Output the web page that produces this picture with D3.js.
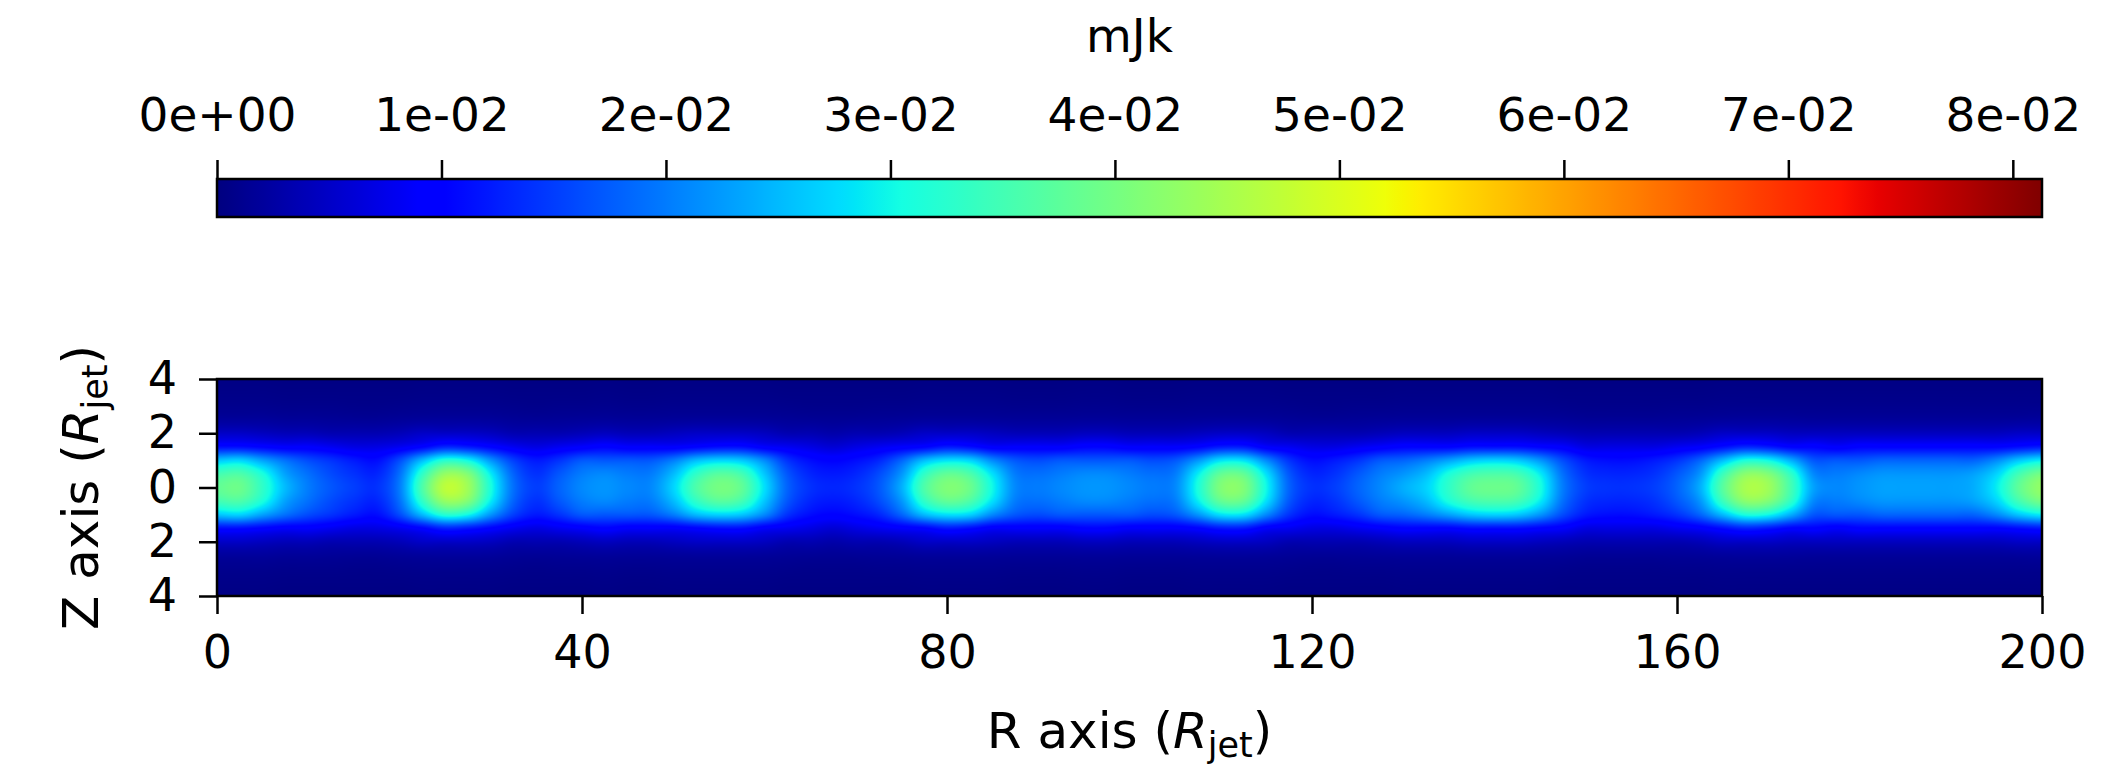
<!DOCTYPE html>
<html><head><meta charset="utf-8">
<script src="https://cdn.jsdelivr.net/npm/d3@7"></script>
<style>
body{margin:0;background:#fff}
svg{display:block}
text{font-family:"DejaVu Sans",sans-serif;fill:#000}
</style>
</head><body>
<svg id="chart" width="2111" height="770"></svg>
<script>
// ---------------- data ----------------
const title = "mJk";
const xTicks = [0, 40, 80, 120, 160, 200];
const zTicks = [4, 2, 0, -2, -4];
const zTickLabels = ["4", "2", "0", "2", "4"];
const cbTicks = [0, 0.01, 0.02, 0.03, 0.04, 0.05, 0.06, 0.07, 0.08];
const cbTickLabels = ["0e+00","1e-02","2e-02","3e-02","4e-02","5e-02","6e-02","7e-02","8e-02"];
const cbMin = 0, cbMax = 0.0813;
const rMin = 0, rMax = 200;                       // R sample columns every 2.5
const zRows = [0, 0.5, 1, 1.5, 2, 2.5, 3, 3.5, 4]; // |Z| sample rows (field symmetric in Z)
const valueUnit = 1e-3;
// mJk values (x1e-3) read along R = 0, 2.5, ... 200 at each |Z|
const mjk_z00 = [38,39,33,25,20,17,15,14,20,36,47,44,31,19,15,18,21,22,21,21,27,36,40,38,28,18,14,13,14,17,24,36,41,39,30,21,20,21,22,22,21,20,21,31,41,41,30,18,14,15,18,21,24,27,33,38,39,38,31,20,15,14,14,15,18,24,37,45,44,35,23,21,22,23,23,23,23,24,29,38,43];
const mjk_z05 = [35,36,31,23,19,16,14,13,19,33,43,41,29,18,14,17,20,21,20,20,25,33,37,35,26,17,13,12,13,16,22,33,38,36,28,20,19,20,21,21,20,19,20,29,38,38,28,17,13,14,17,20,22,25,31,35,36,35,29,19,14,13,13,14,17,22,34,42,41,33,21,20,21,22,22,22,22,23,27,35,40];
const mjk_z10 = [26,27,23,19,16,14,12,11,16,25,32,30,22,15,12,14,17,17,17,17,20,25,27,26,21,14,11,10,11,13,18,25,28,27,21,17,16,17,17,17,17,16,17,22,28,28,21,14,11,12,14,17,18,20,23,26,27,26,22,16,12,11,11,12,14,18,25,31,30,24,17,17,17,18,18,18,18,18,21,26,29];
const mjk_z15 = [11,11,10,9,9,8,7,7,8,10,13,12,10,8,7,8,9,10,9,9,9,10,11,11,9,8,7,6,7,8,9,10,12,11,9,9,9,9,10,10,9,9,9,10,12,12,9,8,7,7,8,9,10,10,10,11,11,11,10,9,7,7,7,7,8,9,11,13,12,10,10,9,10,10,10,10,10,10,10,11,12];
const mjk_z20 = [5,5,4.5,4,4,3.5,3.5,3.5,4,5,5,5,4.5,3.5,3.5,3.5,4,4.5,4,4,4.5,5,5,5,4.5,3.5,3.5,3,3.5,3.5,4,5,5,5,4.5,4,4,4,4.5,4.5,4,4,4,4.5,5,5,4.5,3.5,3.5,3.5,3.5,4,4.5,4.5,4.5,5,5,5,4.5,4,3.5,3.5,3.5,3.5,3.5,4,5,5,5,4.5,4.5,4.5,4.5,4.5,4.5,4.5,4.5,4.5,4.5,5,5];
const mjk_z25 = [2,2,2,1.8,1.8,1.7,1.6,1.6,1.8,2,2.1,2.1,2,1.7,1.6,1.7,1.8,1.9,1.8,1.8,1.9,2,2,2,1.9,1.7,1.6,1.5,1.6,1.7,1.8,2,2,2,1.9,1.8,1.8,1.8,1.9,1.9,1.8,1.8,1.8,1.9,2,2,1.9,1.7,1.6,1.6,1.7,1.8,1.9,1.9,1.9,2,2,2,1.9,1.8,1.6,1.6,1.6,1.6,1.7,1.8,2,2.1,2.1,2,1.9,1.9,1.9,1.9,1.9,1.9,1.9,1.9,1.9,2,2.1];
const mjk_z30 = [1,1,1,0.9,0.9,0.9,0.8,0.8,0.9,1,1,1,1,0.9,0.8,0.9,0.9,1,0.9,0.9,1,1,1,1,1,0.9,0.8,0.8,0.8,0.9,0.9,1,1,1,1,0.9,0.9,0.9,1,1,0.9,0.9,0.9,1,1,1,1,0.9,0.8,0.8,0.9,0.9,1,1,1,1,1,1,1,0.9,0.8,0.8,0.8,0.8,0.9,0.9,1,1,1,1,1,1,1,1,1,1,1,1,1,1,1];
const mjk_z35 = [0.6,0.6,0.6,0.5,0.5,0.5,0.5,0.5,0.5,0.6,0.6,0.6,0.6,0.5,0.5,0.5,0.5,0.6,0.5,0.5,0.6,0.6,0.6,0.6,0.6,0.5,0.5,0.5,0.5,0.5,0.5,0.6,0.6,0.6,0.6,0.5,0.5,0.5,0.6,0.6,0.5,0.5,0.5,0.6,0.6,0.6,0.6,0.5,0.5,0.5,0.5,0.5,0.6,0.6,0.6,0.6,0.6,0.6,0.6,0.5,0.5,0.5,0.5,0.5,0.5,0.5,0.6,0.6,0.6,0.6,0.6,0.6,0.6,0.6,0.6,0.6,0.6,0.6,0.6,0.6,0.6];
const mjk_z40 = [0.4,0.4,0.4,0.3,0.3,0.3,0.3,0.3,0.3,0.4,0.4,0.4,0.4,0.3,0.3,0.3,0.3,0.4,0.3,0.3,0.4,0.4,0.4,0.4,0.4,0.3,0.3,0.3,0.3,0.3,0.3,0.4,0.4,0.4,0.4,0.3,0.3,0.3,0.4,0.4,0.3,0.3,0.3,0.4,0.4,0.4,0.4,0.3,0.3,0.3,0.3,0.3,0.4,0.4,0.4,0.4,0.4,0.4,0.4,0.3,0.3,0.3,0.3,0.3,0.3,0.3,0.4,0.4,0.4,0.4,0.4,0.4,0.4,0.4,0.4,0.4,0.4,0.4,0.4,0.4,0.4];

const grid = [mjk_z00, mjk_z05, mjk_z10, mjk_z15, mjk_z20, mjk_z25, mjk_z30, mjk_z35, mjk_z40]
  .map(row => row.map(v => v * valueUnit));

// ---------------- layout ----------------
const plot = {left: 217, right: 2042, top: 379, bottom: 596};
const cb = {top: 179, bottom: 217};
const tickFont = 46, cbFont = 47, labelFont = 50;

const svg = d3.select("#chart");
const x = d3.scaleLinear([rMin, rMax], [plot.left, plot.right]);
const y = d3.scaleLinear([-4, 4], [plot.bottom, plot.top]);
const cx = d3.scaleLinear([cbMin, cbMax], [plot.left, plot.right]);

// jet colormap via d3 scales
const jetR = d3.scaleLinear([0, 0.35, 0.66, 0.89, 1], [0, 0, 1, 1, 0.5]).clamp(true);
const jetG = d3.scaleLinear([0, 0.125, 0.375, 0.64, 0.91, 1], [0, 0, 1, 1, 0, 0]).clamp(true);
const jetB = d3.scaleLinear([0, 0.11, 0.34, 0.65, 1], [0.5, 1, 1, 0, 0]).clamp(true);
const norm = d3.scaleLinear([cbMin, cbMax], [0, 1]).clamp(true);
const jetRGB = t => [Math.round(jetR(t) * 255), Math.round(jetG(t) * 255), Math.round(jetB(t) * 255)];

// ---------------- heatmap (bicubic display resampling) ----------------
function cr(p0, p1, p2, p3, t) {
  return p1 + 0.5 * t * (p2 - p0 + t * (2 * p0 - 5 * p1 + 4 * p2 - p3 + t * (3 * (p1 - p2) + p3 - p0)));
}
const nCols = grid[0].length, nRows = grid.length;
const pw = Math.round(plot.right - plot.left), ph = Math.round(plot.bottom - plot.top);
const colScale = d3.scaleLinear([rMin, rMax], [0, nCols - 1]);
const rowScale = d3.scaleLinear([zRows[0], zRows[zRows.length - 1]], [0, nRows - 1]);
const hor = grid.map(row => {
  const out = new Float32Array(pw);
  for (let px = 0; px < pw; px++) {
    const c = colScale(x.invert(plot.left + px + 0.5));
    const i = Math.floor(c), t = c - i;
    const g = k => row[Math.max(0, Math.min(nCols - 1, k))];
    out[px] = cr(g(i - 1), g(i), g(i + 1), g(i + 2), t);
  }
  return out;
});
const canvas = document.createElement("canvas");
canvas.width = pw; canvas.height = ph;
const ctx = canvas.getContext("2d");
const img = ctx.createImageData(pw, ph);
for (let py = 0; py < ph; py++) {
  const z = Math.abs(y.invert(plot.top + py + 0.5));
  const r = rowScale(z);
  const i = Math.floor(r), t = r - i;
  const rowAt = k => hor[k < 0 ? -k : Math.min(nRows - 1, k)];
  const a = rowAt(i - 1), b = rowAt(i), c = rowAt(i + 1), d = rowAt(i + 2);
  for (let px = 0; px < pw; px++) {
    const v = Math.max(0, cr(a[px], b[px], c[px], d[px], t));
    const col = jetRGB(norm(v));
    const o = (py * pw + px) * 4;
    img.data[o] = col[0]; img.data[o + 1] = col[1]; img.data[o + 2] = col[2]; img.data[o + 3] = 255;
  }
}
ctx.putImageData(img, 0, 0);
svg.append("image")
  .attr("x", x(rMin)).attr("y", y(4))
  .attr("width", pw).attr("height", ph)
  .attr("preserveAspectRatio", "none")
  .attr("href", canvas.toDataURL());
svg.append("rect")
  .attr("x", x(rMin)).attr("y", y(4))
  .attr("width", x(rMax) - x(rMin)).attr("height", y(-4) - y(4))
  .attr("fill", "none").attr("stroke", "#000").attr("stroke-width", 2.5);

// axes
const xAxis = svg.append("g").attr("transform", `translate(0,${plot.bottom})`)
  .call(d3.axisBottom(x).tickValues(xTicks).tickFormat(d3.format("d")).tickSize(18).tickPadding(21));
const yAxis = svg.append("g").attr("transform", `translate(${plot.left},0)`)
  .call(d3.axisLeft(y).tickValues(zTicks).tickFormat((d, i) => zTickLabels[i]).tickSize(18).tickPadding(22));
[xAxis, yAxis].forEach(g => {
  g.select(".domain").remove();
  g.selectAll(".tick line").attr("stroke", "#000").attr("stroke-width", 2.5);
  g.selectAll(".tick text").attr("font-family", '"DejaVu Sans", sans-serif').attr("font-size", tickFont).attr("fill", "#000");
});

// axis labels
const xl = svg.append("text").attr("x", (plot.left + plot.right) / 2).attr("y", 748)
  .attr("text-anchor", "middle").attr("font-size", labelFont);
xl.append("tspan").text("R axis (");
xl.append("tspan").attr("font-style", "italic").text("R");
xl.append("tspan").attr("font-size", labelFont * 0.7).attr("dy", 9).text("jet");
xl.append("tspan").attr("dy", -9).text(")");

const yl = svg.append("text")
  .attr("transform", `translate(98,${(plot.top + plot.bottom) / 2}) rotate(-90)`)
  .attr("text-anchor", "middle").attr("font-size", labelFont);
yl.append("tspan").text("Z axis (");
yl.append("tspan").attr("font-style", "italic").text("R");
yl.append("tspan").attr("font-size", labelFont * 0.7).attr("dy", 9).text("jet");
yl.append("tspan").attr("dy", -9).text(")");

// ---------------- colorbar ----------------
const defs = svg.append("defs");
const grad = defs.append("linearGradient").attr("id", "jetgrad")
  .attr("x1", "0%").attr("x2", "100%").attr("y1", "0%").attr("y2", "0%");
d3.range(0, 1.0001, 1 / 200).forEach(t => {
  const c = jetRGB(t);
  grad.append("stop").attr("offset", (t * 100) + "%").attr("stop-color", `rgb(${c[0]},${c[1]},${c[2]})`);
});
svg.append("rect")
  .attr("x", cx(cbMin)).attr("y", cb.top)
  .attr("width", cx(cbMax) - cx(cbMin)).attr("height", cb.bottom - cb.top)
  .attr("fill", "url(#jetgrad)").attr("stroke", "#000").attr("stroke-width", 2.5);
const cAxis = svg.append("g").attr("transform", `translate(0,${cb.top})`)
  .call(d3.axisTop(cx).tickValues(cbTicks).tickFormat((d, i) => cbTickLabels[i]).tickSize(19).tickPadding(29));
cAxis.select(".domain").remove();
cAxis.selectAll(".tick line").attr("stroke", "#000").attr("stroke-width", 2.5);
cAxis.selectAll(".tick text").attr("font-family", '"DejaVu Sans", sans-serif').attr("font-size", cbFont).attr("fill", "#000");

svg.append("text").attr("x", (plot.left + plot.right) / 2).attr("y", 52)
  .attr("text-anchor", "middle").attr("font-size", cbFont).text(title);
</script>
</body></html>
